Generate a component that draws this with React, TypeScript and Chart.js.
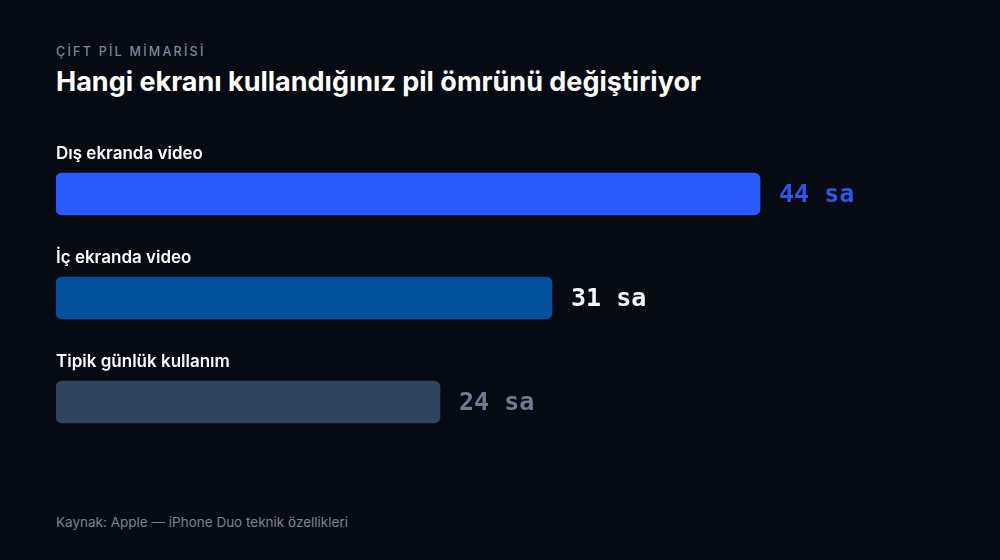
import React, { useEffect, useRef } from "react";
import { Chart, registerables } from "chart.js";

Chart.register(...registerables);

const categories = ["Dış ekranda video", "İç ekranda video", "Tipik günlük kullanım"];
const hours = [44, 31, 24];
const unit = "sa";
const barColors = ["#2a5bff", "#02509e", "#32445c"];
const valueColors = ["#2c58e8", "#f4f6fa", "#6f7b8f"];

const BG = "#060a12";

const App: React.FC = () => {
  const chartRef = useRef<HTMLCanvasElement | null>(null);
  const chartInstance = useRef<Chart | null>(null);

  useEffect(() => {
    const ctx = chartRef.current;
    if (!ctx) return;
    if (chartInstance.current) chartInstance.current.destroy();

    // draws the category name above each bar and the value to its right
    const barLabels = {
      id: "barLabels",
      afterDatasetsDraw(chart: Chart) {
        const c = chart.ctx;
        const meta = chart.getDatasetMeta(0);
        c.save();
        meta.data.forEach((bar: any, i: number) => {
          const top = bar.y - bar.height / 2;
          c.font = "600 17px Inter";
          c.fillStyle = "#ffffff";
          c.textAlign = "left";
          c.textBaseline = "alphabetic";
          c.fillText(categories[i], chart.chartArea.left, top - 14);

          c.font = "bold 25px 'DejaVu Sans Mono'";
          c.fillStyle = valueColors[i];
          c.textBaseline = "middle";
          c.fillText(hours[i] + " " + unit, bar.x + 19, bar.y + 1);
        });
        c.restore();
      },
    };

    chartInstance.current = new Chart(ctx, {
      type: "bar",
      data: {
        labels: categories,
        datasets: [
          {
            data: hours,
            backgroundColor: barColors,
            borderRadius: 6,
            borderSkipped: false,
            barThickness: 42,
          },
        ],
      },
      options: {
        indexAxis: "y",
        animation: false,
        responsive: true,
        maintainAspectRatio: false,
        layout: { padding: { left: 56, right: 144, top: 0, bottom: 0 } },
        plugins: {
          legend: { display: false },
          tooltip: { enabled: false },
        },
        scales: {
          x: { display: false, min: 0, max: 50 },
          y: { display: false },
        },
      },
      plugins: [barLabels],
    });

    return () => {
      if (chartInstance.current) {
        chartInstance.current.destroy();
        chartInstance.current = null;
      }
    };
  }, []);

  return (
    <div
      style={{
        position: "fixed",
        inset: 0,
        width: 1000,
        height: 560,
        background: BG,
        fontFamily: "Inter, 'Noto Sans', sans-serif",
        overflow: "hidden",
      }}
    >
      <div
        style={{
          position: "absolute",
          left: 56,
          top: 44,
          fontSize: 12.5,
          letterSpacing: "0.18em",
          color: "#7d8798",
          fontWeight: 500,
        }}
      >
        ÇİFT PİL MİMARİSİ
      </div>
      <div
        style={{
          position: "absolute",
          left: 56,
          top: 65,
          fontSize: 27,
          fontWeight: 700,
          color: "#ffffff",
        }}
      >
        Hangi ekranı kullandığınız pil ömrünü değiştiriyor
      </div>
      <div style={{ position: "absolute", left: 0, top: 142, width: 1000, height: 312 }}>
        <canvas ref={chartRef}></canvas>
      </div>
      <div
        style={{
          position: "absolute",
          left: 56,
          top: 514,
          fontSize: 13.5,
          color: "#7a8394",
        }}
      >
        Kaynak: Apple — iPhone Duo teknik özellikleri
      </div>
    </div>
  );
};

export default App;
